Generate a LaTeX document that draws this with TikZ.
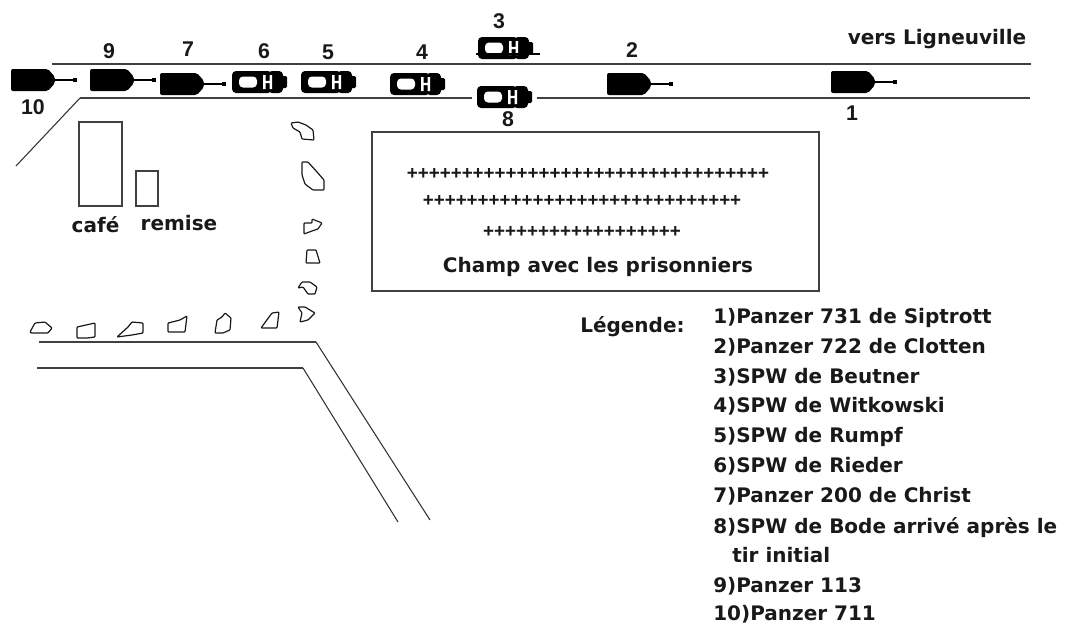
\documentclass[tikz,border=0pt]{standalone}
\usepackage{fontspec}
\setmainfont{DejaVu Sans}
\newfontfamily\narrowfont{Liberation Sans}
\usetikzlibrary{positioning}
\tikzset{
    % Text styles
    lbl/.style={font=\bfseries\fontsize{15}{18}\selectfont, inner sep=0pt, text height=11pt, text depth=0pt, text=black!90},
    num/.style={font=\narrowfont\bfseries\fontsize{16}{18}\selectfont, inner sep=0pt, text height=11.5pt, text depth=0pt, text=black!90},
    plus row/.style={font=\narrowfont\bfseries\fontsize{14.1}{16}\selectfont, inner sep=0pt, text=black!90},
    legend line/.style={lbl, anchor=west},
    % Line styles
    road/.style={draw=black!75, line width=1.2pt},
    thin wall/.style={draw=black!80, line width=0.8pt},
    wall/.style={draw=black!75, line width=1.1pt},
    rock/.style={draw=black!90, line width=0.9pt, line join=round, rounded corners=0.6pt},
    % Vehicles, origin at the left end of the hull
    panzer/.pic={
        \fill[black, rounded corners=1.5pt] (0,-11) -- (37,-11) -- (44,-3) -- (44,3) -- (37,11) -- (0,11) -- cycle;
        \draw[black, line width=0.8pt] (44,0) -- (62,0);
        \fill[black] (62,-2.2) rectangle (66,2.2);
    },
    spw/.pic={
        \fill[black, rounded corners=3pt] (0,-11) rectangle (40,11);
        \fill[black, rounded corners=3pt] (36,-11) rectangle (51,11);
        \fill[black, rounded corners=1pt] (48,-6) rectangle (55,6);
        \fill[white, rounded corners=3pt] (7,-5.5) rectangle (25,5.5);
        \fill[white] (31,-7) rectangle (33.5,7) (37.5,-7) rectangle (40,7) (31,-1.2) rectangle (40,1.2);
    },
}
\begin{document}
\begin{tikzpicture}[x=0.75pt, y=-0.75pt]
    \useasboundingbox (0,0) rectangle (1066,625);

    % Roads
    \draw[road] (52,64) -- (1031,64);
    \draw[road] (80,98) -- (472,98);
    \draw[road] (537,98) -- (1030,98);
    \draw[thin wall] (16,166) -- (80,98);
    \draw[road] (39,342) -- (316,342);
    \draw[thin wall] (316,342) -- (430,520);
    \draw[road] (37,368) -- (303,368);
    \draw[thin wall] (303,368) -- (398,522);

    % Buildings
    \node[wall, draw, minimum width=32pt, minimum height=63pt, inner sep=0pt] (cafe) at (100.5,164) {};
    \node[wall, draw, minimum width=16.5pt, minimum height=26pt, inner sep=0pt] (remise) at (147,188.5) {};
    \node[lbl] (cafe label) at (95.5,225.5) {café};
    \node[lbl] (remise label) at (179,223.5) {remise};

    % Field
    \node[wall, draw, minimum width=335pt, minimum height=119pt, inner sep=0pt] (champ) at (595.5,211.5) {};
    \node[plus row] (rang1) at (588,174) {+++++++++++++++++++++++++++++++++};
    \node[plus row] (rang2) at (582,200.5) {+++++++++++++++++++++++++++++};
    \node[plus row] (rang3) at (582,232) {++++++++++++++++++};
    \node[lbl] (champ label) at (598,265.5) {Champ avec les prisonniers};

    % Vehicles
    \foreach \x/\y in {11/80, 90/80, 160/84, 607/84, 831/82} {
        \pic at (\x,\y) {panzer};
    }
    \foreach \x/\y in {232/82, 301/82, 390/84, 478/48, 477/97} {
        \pic at (\x,\y) {spw};
    }
    \draw[black, line width=0.8pt] (476,54) -- (540,54);

    % Numbers
    \foreach \n/\x/\y in {9/109/51, 7/188/49, 6/264/51, 5/328/52, 4/422/52, 3/499/21, 2/632/50, 10/33/107, 8/508/119, 1/852/113} {
        \node[num] (num\n) at (\x,\y) {\n};
    }
    \node[lbl] (vers) at (937,37.5) {vers Ligneuville};

    % Rocks
    \draw[rock] (291,123) -- (298,122) -- (306,125) -- (313,130) -- (314,140) -- (302,139) -- (300,132) -- (293,128) -- cycle;
    \draw[rock] (302,162) -- (308,162) -- (317,172) -- (324,180) -- (324,190) -- (313,190) -- (305,184) -- (302,175) -- cycle;
    \draw[rock] (304,223) -- (312,223) -- (312,219) -- (322,223) -- (318,229) -- (312,231) -- (304,234) -- cycle;
    \draw[rock] (307,250) -- (316,250) -- (320,263) -- (306,263) -- cycle;
    \draw[rock] (298,288) -- (302,282) -- (310,282) -- (317,287) -- (315,294) -- (308,294) -- (303,287) -- cycle;
    \draw[rock] (298,307) -- (305,307) -- (315,313) -- (308,320) -- (300,322) -- (302,313) -- cycle;
    \draw[rock] (30,332) -- (35,323) -- (45,322) -- (52,328) -- (48,333) -- (31,333) -- cycle;
    \draw[rock] (77,327) -- (95,323) -- (95,337) -- (87,338) -- (77,338) -- cycle;
    \draw[rock] (117,337) -- (128,327) -- (132,322) -- (143,323) -- (143,333) -- (132,335) -- cycle;
    \draw[rock] (168,323) -- (180,320) -- (187,316) -- (185,332) -- (168,332) -- cycle;
    \draw[rock] (215,333) -- (217,320) -- (222,317) -- (225,313) -- (231,318) -- (230,330) -- (223,333) -- cycle;
    \draw[rock] (261,328) -- (272,313) -- (279,312) -- (277,328) -- cycle;

    % Legend
    \node[lbl, anchor=west] (legende) at (580,325) {Légende:};
    \foreach \i/\y/\txt in {1/316/1)Panzer 731 de Siptrott, 2/346/2)Panzer 722 de Clotten, 3/376/3)SPW de Beutner,
        4/405/4)SPW de Witkowski, 5/435/5)SPW de Rumpf, 6/465/6)SPW de Rieder, 7/495/7)Panzer 200 de Christ,
        8/526/8)SPW de Bode arrivé après le, 9/585/9)Panzer 113, 10/613.5/10)Panzer 711} {
        \node[legend line] (leg\i) at (713,\y) {\txt};
    }
    \node[legend line] (leg8b) at (732,555) {tir initial};
\end{tikzpicture}
\end{document}
